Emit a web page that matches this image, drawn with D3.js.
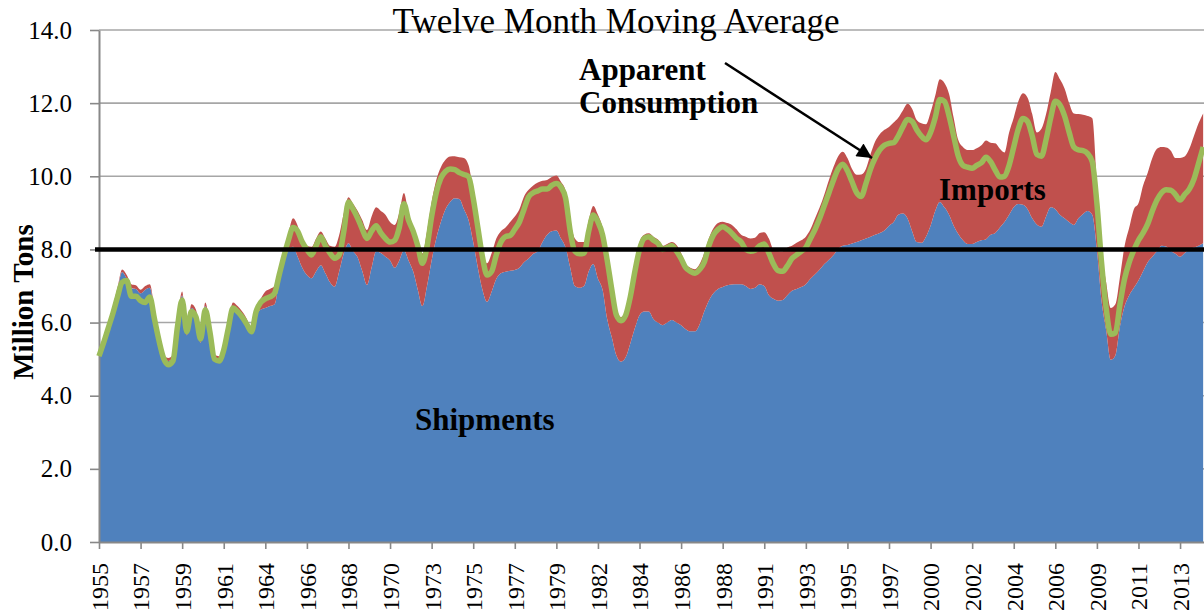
<!DOCTYPE html>
<html>
<head>
<meta charset="UTF-8">
<style>
  body { margin: 0; background: #fff; }
  text { font-family: "Liberation Serif", "Times New Roman", serif; fill: #000; }
</style>
</head>
<body>
<div id="chart"></div>
<script src="https://cdnjs.cloudflare.com/ajax/libs/d3/7.8.5/d3.min.js"></script>
<script>
// quarterly points, 1955 Q1 .. 2014 Q4
const quarters = d3.range(240).map(i => 1955 + i * 0.25);

const shipments = [
  5.12, 5.50, 5.95, 6.40,  6.90, 7.38, 7.20, 6.94,  6.92, 6.80, 6.90, 6.95,  6.30, 5.60, 5.05, 4.95,
  5.05, 6.00, 6.75, 5.65,  6.40, 6.25, 5.45, 6.45,  5.85, 5.05, 5.00, 5.30,  5.90, 6.45, 6.35, 6.20,
  6.00, 5.70, 6.20, 6.35,  6.40, 6.45, 6.50, 7.10,  7.60, 7.98, 8.07, 7.80,  7.50, 7.30, 7.21, 7.40,
  7.57, 7.35, 7.10, 6.98,  7.40, 7.90, 8.17, 7.95,  7.78, 7.40, 7.03, 7.50,  7.95, 7.90, 7.80, 7.70,
  7.50, 7.70, 7.98, 7.70,  7.40, 6.90, 6.45, 7.00,  7.70, 8.30, 8.75, 9.10,  9.30, 9.40, 9.38, 9.10,
  8.80, 8.20, 7.50, 6.90,  6.57, 6.85, 7.20, 7.35,  7.39, 7.42, 7.44, 7.50,  7.65, 7.75, 7.88, 7.96,
  8.20, 8.40, 8.50, 8.52,  8.30, 8.05, 7.50, 7.00,  6.95, 7.00, 7.40, 7.60,  7.20, 6.90, 6.10, 5.60,
  5.10, 4.93, 5.05, 5.43,  5.85, 6.20, 6.30, 6.30,  6.10, 6.00, 5.93, 6.00,  6.07, 6.00, 5.93, 5.82,
  5.76, 5.76, 5.95, 6.30,  6.60, 6.80, 6.92, 6.97,  7.02, 7.04, 7.05, 7.05,  7.00, 6.92, 6.95, 7.05,
  7.00, 6.75, 6.65, 6.60,  6.62, 6.75, 6.87, 6.92,  6.97, 7.05, 7.20, 7.32,  7.45, 7.60, 7.72, 7.85,
  8.02, 8.10, 8.12, 8.16,  8.20, 8.25, 8.30, 8.35,  8.40, 8.45, 8.52, 8.65,  8.75, 8.95, 8.98, 8.85,
  8.50, 8.20, 8.18, 8.35,  8.65, 9.05, 9.30, 9.15,  8.95, 8.65, 8.42, 8.25,  8.15, 8.15, 8.20, 8.25,
  8.28, 8.40, 8.45, 8.60,  8.75, 8.95, 9.15, 9.24,  9.22, 9.10, 8.85, 8.68,  8.62, 8.90, 9.15, 9.10,
  8.95, 8.85, 8.75, 8.67,  8.85, 8.97, 9.05, 8.95,  8.00, 6.60, 5.80, 4.98,  5.10, 5.90, 6.45, 6.75,
  6.95, 7.15, 7.40, 7.65,  7.80, 7.95, 8.10, 8.08,  7.96, 7.88, 7.80, 7.90,  8.00, 8.05, 8.10, 8.17
];

const imports = [
  0.03, 0.05, 0.05, 0.05,  0.05, 0.07, 0.10, 0.11,  0.10, 0.10, 0.10, 0.10,  0.10, 0.10, 0.07, 0.08,
  0.07, 0.10, 0.10, 0.10,  0.10, 0.10, 0.10, 0.10,  0.10, 0.07, 0.08, 0.08,  0.10, 0.10, 0.10, 0.10,
  0.10, 0.10, 0.20, 0.30,  0.45, 0.47, 0.50, 0.40,  0.40, 0.47, 0.78, 0.85,  0.70, 0.80, 0.86, 0.90,
  0.92, 0.95, 1.00, 1.09,  1.00, 1.10, 1.26, 1.30,  1.27, 1.40, 1.50, 1.40,  1.20, 1.15, 1.15, 1.05,
  1.17, 1.30, 1.56, 1.30,  1.20, 1.25, 1.44, 1.50,  1.60, 1.60, 1.50, 1.35,  1.24, 1.15, 1.14, 1.40,
  1.50, 1.40, 1.30, 1.10,  1.05, 1.05, 1.10, 1.15,  1.21, 1.33, 1.46, 1.60,  1.80, 1.88, 1.87, 1.87,
  1.68, 1.50, 1.48, 1.50,  1.55, 1.55, 1.30, 1.30,  1.25, 1.20, 1.40, 1.59,  1.75, 1.70, 1.80, 1.60,
  1.30, 1.22, 1.25, 1.42,  1.75, 2.00, 2.10, 2.14,  2.25, 2.27, 2.17, 2.15,  2.13, 2.12, 1.97, 1.78,
  1.74, 1.70, 1.65, 1.60,  1.70, 1.78, 1.80, 1.79,  1.70, 1.63, 1.50, 1.35,  1.35, 1.38, 1.37, 1.40,
  1.47, 1.55, 1.35, 1.36,  1.33, 1.30, 1.23, 1.26,  1.28, 1.30, 1.35, 1.53,  1.70, 1.90, 2.18, 2.41,
  2.53, 2.57, 2.38, 2.04,  1.84, 1.80, 1.90, 2.25,  2.55, 2.70, 2.75, 2.70,  2.72, 2.65, 2.82, 3.13,
  3.35, 3.34, 3.27, 3.07,  3.10, 3.15, 3.35, 3.40,  3.30, 2.95, 2.57, 2.55,  2.57, 2.57, 2.57, 2.60,
  2.70, 2.52, 2.45, 2.15,  1.90, 2.25, 2.45, 2.81,  3.05, 3.05, 2.85, 2.52,  2.68, 2.80, 3.15, 3.75,
  3.70, 3.55, 3.25, 3.05,  2.85, 2.71, 2.60, 2.64,  1.80, 1.40, 1.30, 1.42,  1.40, 1.35, 1.65, 1.85,
  2.15, 2.11, 2.35, 2.45,  2.70, 2.80, 2.70, 2.71,  2.74, 2.62, 2.70, 2.64,  2.75, 3.05, 3.35, 3.55
];

const consumption = [
  5.08, 5.45, 5.85, 6.25,  6.70, 7.10, 7.15, 6.72,  6.72, 6.60, 6.55, 6.70,  6.10, 5.50, 5.02, 4.85,
  4.95, 5.90, 6.62, 5.75,  6.30, 6.15, 5.55, 6.35,  5.75, 5.00, 4.95, 5.25,  5.85, 6.40, 6.30, 6.15,
  5.95, 5.75, 6.30, 6.55,  6.65, 6.70, 6.80, 7.30,  7.80, 8.25, 8.60, 8.50,  8.20, 8.00, 7.85, 8.10,
  8.35, 8.10, 7.90, 7.76,  7.85, 8.50, 9.30, 9.10,  8.85, 8.55, 8.30, 8.50,  8.65, 8.45, 8.30, 8.20,
  8.25, 8.60, 9.25, 8.80,  8.50, 8.10, 7.62, 8.07,  8.90, 9.55, 9.95, 10.13, 10.20, 10.18, 10.10, 10.05,
  9.99, 9.40, 8.60, 7.80,  7.30, 7.40, 7.85, 8.20,  8.35, 8.38, 8.55, 8.75,  9.10, 9.44, 9.55, 9.60,
  9.65, 9.65, 9.75, 9.80,  9.70, 9.40, 8.50, 7.95,  7.88, 7.90, 8.50, 8.94,  8.75, 8.40, 7.70, 6.90,
  6.20, 6.05, 6.20, 6.70,  7.40, 8.00, 8.30, 8.35,  8.25, 8.17, 8.00, 8.05,  8.10, 7.95, 7.75, 7.50,
  7.40, 7.35, 7.45, 7.65,  8.10, 8.40, 8.55, 8.62,  8.55, 8.44, 8.30, 8.20,  8.00, 7.95, 7.98, 8.10,
  8.15, 7.90, 7.60, 7.42,  7.40, 7.55, 7.75, 7.85,  7.95, 8.05, 8.30, 8.55,  8.85, 9.20, 9.55, 9.90,
  10.20, 10.33, 10.15, 9.85, 9.55, 9.45, 9.80, 10.20, 10.50, 10.72, 10.85, 10.90, 10.92, 11.10, 11.35, 11.55,
  11.50, 11.27, 11.10, 11.00, 11.20, 11.60, 12.10, 12.05, 11.65, 11.10, 10.55, 10.30, 10.25, 10.22, 10.30, 10.37,
  10.52, 10.40, 10.17, 9.98, 10.00, 10.30, 10.80, 11.30, 11.58, 11.50, 11.10, 10.60, 10.55, 11.00, 11.60, 12.05,
  11.95, 11.65, 11.20, 10.80, 10.72, 10.70, 10.62, 10.40, 9.26, 7.65, 6.40, 5.68,  5.72, 6.50, 7.20, 7.65,
  7.98, 8.25, 8.45, 8.70,  9.05, 9.35, 9.55, 9.63,  9.62, 9.50, 9.35, 9.50,  9.65, 9.92, 10.35, 10.80
];

// Excel category axis: one label every 27 months starting Jan 1955
const tickLabels = ["1955","1957","1959","1961","1964","1966","1968","1970","1973","1975","1977","1979","1982",
  "1984","1986","1988","1991","1993","1995","1997","2000","2002","2004","2006","2009","2011","2013"];
const yTicks = [0, 2, 4, 6, 8, 10, 12, 14];
const referenceLevel = 8.0;

const width = 1204, height = 614;

const svg = d3.select("#chart").append("svg")
    .attr("width", width)
    .attr("height", height);

const x = d3.scaleLinear().domain([1955, 2014.85]).range([99, 1205]);
const y = d3.scaleLinear().domain([0, 14]).range([542, 30]);

// gridlines
svg.append("g")
  .selectAll("line")
  .data(yTicks.filter(d => d > 0))
  .join("line")
    .attr("x1", x(1955)).attr("x2", width)
    .attr("y1", d => y(d)).attr("y2", d => y(d))
    .attr("stroke", "#a6a6a6")
    .attr("stroke-width", 1.6);

// stacked areas
const table = quarters.map((q, i) => ({year: q, shipments: shipments[i], imports: imports[i]}));
const stacked = d3.stack().keys(["shipments", "imports"])(table);
const colors = {shipments: "#4f81bd", imports: "#c0504d"};

const area = d3.area()
    .x(d => x(d.data.year))
    .y0(d => y(d[0]))
    .y1(d => y(d[1]))
    .curve(d3.curveMonotoneX);

svg.append("g")
  .selectAll("path")
  .data(stacked)
  .join("path")
    .attr("d", area)
    .attr("fill", d => colors[d.key]);

// axes
const yAxis = svg.append("g")
    .attr("transform", `translate(${x(1955)},0)`)
    .call(d3.axisLeft(y).tickValues(yTicks).tickSize(9).tickSizeOuter(0)
      .tickPadding(18).tickFormat(d3.format(".1f")));
yAxis.select(".domain").attr("stroke", "#888").attr("stroke-width", 2);
yAxis.selectAll(".tick line").attr("stroke", "#888").attr("stroke-width", 1.6);
yAxis.selectAll(".tick text")
    .style("font-family", "Liberation Serif, serif")
    .style("font-size", "25px")
    .attr("fill", "#000");

const xAxis = svg.append("g")
    .attr("transform", `translate(0,${y(0)})`)
    .call(d3.axisBottom(x)
      .tickValues(tickLabels.map((_, i) => 1955 + i * 2.25))
      .tickFormat((d, i) => tickLabels[i])
      .tickSize(7).tickSizeOuter(0));
xAxis.select(".domain").attr("stroke", "#888").attr("stroke-width", 2);
xAxis.selectAll(".tick line").attr("stroke", "#888").attr("stroke-width", 1.6);
xAxis.selectAll(".tick text")
    .attr("transform", "rotate(-90)")
    .attr("x", -21)
    .attr("y", 0)
    .attr("dy", "0.35em")
    .style("text-anchor", "end")
    .style("font-family", "Liberation Serif, serif")
    .style("font-size", "24px")
    .attr("fill", "#000");

// apparent consumption line
const line = d3.line()
    .x((d, i) => x(quarters[i]))
    .y(d => y(d))
    .curve(d3.curveMonotoneX);

svg.append("path")
    .datum(consumption)
    .attr("d", line)
    .attr("fill", "none")
    .attr("stroke", "#9bbb59")
    .attr("stroke-width", 5.5)
    .attr("stroke-linejoin", "round");

// 8.0 reference line
svg.append("line")
    .attr("x1", 95).attr("x2", width)
    .attr("y1", y(referenceLevel)).attr("y2", y(referenceLevel))
    .attr("stroke", "#000")
    .attr("stroke-width", 4.5);

// title (second line, first line is cropped)
svg.append("text")
    .attr("x", 616).attr("y", 33)
    .attr("text-anchor", "middle")
    .style("font-size", "35px")
    .text("Twelve Month Moving Average");

// y axis title
svg.append("text")
    .attr("transform", "translate(33,302) rotate(-90)")
    .attr("text-anchor", "middle")
    .style("font-size", "29px")
    .style("font-weight", "bold")
    .text("Million Tons");

// annotations
const labels = svg.append("g")
    .style("font-size", "31px")
    .style("font-weight", "bold");
labels.append("text").attr("x", 579).attr("y", 80).text("Apparent");
labels.append("text").attr("x", 579).attr("y", 113).text("Consumption");
labels.append("text").attr("x", 939).attr("y", 200).text("Imports");
labels.append("text").attr("x", 415).attr("y", 430).text("Shipments");

svg.append("defs").append("marker")
    .attr("id", "arrow")
    .attr("viewBox", "0 0 10 10")
    .attr("refX", 10).attr("refY", 5)
    .attr("markerWidth", 18).attr("markerHeight", 15)
    .attr("markerUnits", "userSpaceOnUse")
    .attr("orient", "auto")
  .append("path")
    .attr("d", "M0,0 L10,5 L0,10 z")
    .attr("fill", "#000");

svg.append("line")
    .attr("x1", 725).attr("y1", 63)
    .attr("x2", 872).attr("y2", 158)
    .attr("stroke", "#000")
    .attr("stroke-width", 2.5)
    .attr("marker-end", "url(#arrow)");
</script>
</body>
</html>
